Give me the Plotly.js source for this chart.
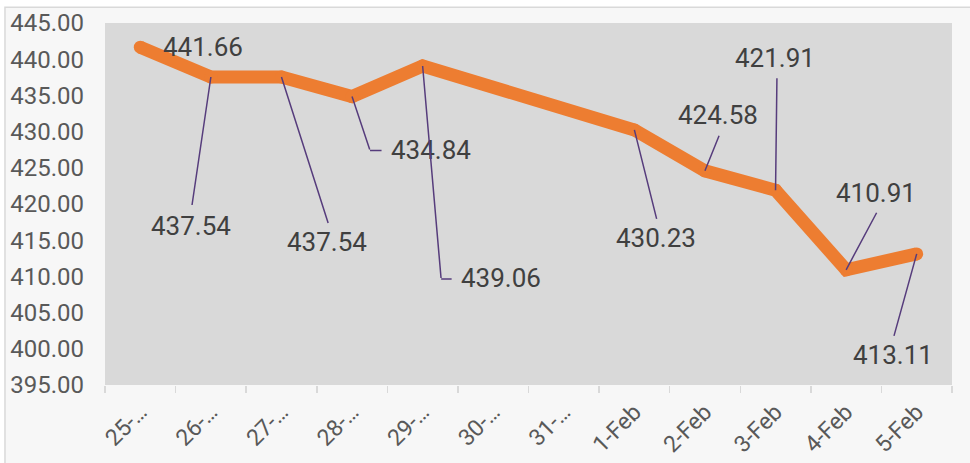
<!DOCTYPE html>
<html>
<head>
<meta charset="utf-8">
<script src="https://cdn.plot.ly/plotly-3.0.1.min.js"></script>
<style>
  html, body { margin: 0; padding: 0; background: #ffffff; }
  #chart { width: 970px; height: 463px; }
</style>
</head>
<body>
<div id="chart"></div>
<script>
// ---- data ----
const categories = ['25-Jan', '26-Jan', '27-Jan', '28-Jan', '29-Jan', '30-Jan', '31-Jan',
                    '1-Feb', '2-Feb', '3-Feb', '4-Feb', '5-Feb'];
const tickLabels = ['25-\u2026', '26-\u2026', '27-\u2026', '28-\u2026', '29-\u2026', '30-\u2026', '31-\u2026',
                    '1-Feb', '2-Feb', '3-Feb', '4-Feb', '5-Feb'];
const values = [441.66, 437.54, 437.54, 434.84, 439.06, null, null,
                430.23, 424.58, 421.91, 410.91, 413.11];
const yTicks = [395, 400, 405, 410, 415, 420, 425, 430, 435, 440, 445];

// ---- label placement (pixel offsets from each point; styling only) ----
// [labelDx, labelDy, leaderDx, leaderDy, hookLength]  (dy positive = downward)
const labelPlacement = {
  0:  [63, 1, null, null, 0],
  1:  [-20, 150, -19, 129, 0],
  2:  [46, 166, 47, 147, 0],
  3:  [79, 54, 18, 54, 12],
  4:  [78, 213, 18.5, 213, 11],
  7:  [22, 109, 22.5, 90, 0],
  8:  [13, -55, 14.5, -36, 0],
  9:  [-1, -131, 1.4, -113, 0],
  10: [30, -76, 31, -58, 0],
  11: [-24, 102, -23, 83, 0]
};

const ORANGE = '#ED7D31';
const LEADER = '#563C7C';
const LABEL_COLOR = '#404040';
const AXIS_COLOR = '#595959';
const FONT = 'Roboto, "Liberation Sans", Arial, sans-serif';

const trace = {
  type: 'scatter',
  mode: 'lines+markers',
  x: categories,
  y: values,
  connectgaps: true,
  line: { color: ORANGE, width: 13 },
  marker: { color: ORANGE, size: 13, line: { width: 0 } },
  hoverinfo: 'x+y'
};

const annotations = [];
values.forEach(function (v, i) {
  if (v === null || !labelPlacement[i]) return;
  const p = labelPlacement[i];
  // text label
  annotations.push({
    x: categories[i], y: v, xref: 'x', yref: 'y',
    text: v.toFixed(2),
    showarrow: false,
    xshift: p[0], yshift: -p[1] + 1,
    xanchor: 'center', yanchor: 'middle',
    font: { family: FONT, size: 26, color: LABEL_COLOR }
  });
  // leader line
  if (p[2] !== null) {
    annotations.push({
      x: categories[i], y: v, xref: 'x', yref: 'y',
      text: ' ', font: { size: 1 }, borderpad: 0,
      showarrow: true, arrowhead: 0, arrowwidth: 1.5, arrowcolor: LEADER,
      standoff: 0, startstandoff: 0,
      ax: p[2], ay: p[3]
    });
    if (p[4]) {
      annotations.push({
        x: categories[i], y: v, xref: 'x', yref: 'y',
        xshift: p[2], yshift: -p[3],
        text: ' ', font: { size: 1 }, borderpad: 0,
        showarrow: true, arrowhead: 0, arrowwidth: 1.5, arrowcolor: LEADER,
        standoff: 0, startstandoff: 0,
        ax: p[4], ay: 0
      });
    }
  }
});

const layout = {
  width: 970,
  height: 463,
  margin: { l: 105, r: 18.3, t: 22.7, b: 78, pad: 0 },
  paper_bgcolor: '#ffffff',
  plot_bgcolor: '#d9d9d9',
  showlegend: false,
  font: { family: FONT, color: AXIS_COLOR },
  xaxis: {
    type: 'category',
    range: [-0.5, categories.length - 0.5],
    tickvals: categories,
    ticktext: tickLabels,
    tickangle: -45,
    tickson: 'boundaries',
    ticks: 'outside',
    ticklen: 7,
    tickwidth: 1.5,
    tickcolor: '#d9d9d9',
    ticklabelstandoff: 8,
    showgrid: false,
    zeroline: false,
    showline: false,
    tickfont: { family: FONT, size: 23, color: AXIS_COLOR },
    fixedrange: true
  },
  yaxis: {
    range: [395, 445],
    tickvals: yTicks,
    ticktext: yTicks.map(function (t) { return t.toFixed(2); }),
    ticks: '',
    ticklabelstandoff: 20,
    showgrid: false,
    zeroline: false,
    showline: false,
    tickfont: { family: FONT, size: 24, color: AXIS_COLOR },
    fixedrange: true
  },
  shapes: [
    {
      type: 'rect', layer: 'below', xref: 'paper', yref: 'paper',
      x0: -0.1181, x1: 1.1, y0: -0.3, y1: 1.0433,
      fillcolor: '#f7f7f7', line: { color: '#d9d9d9', width: 1.5 }
    },
    {
      type: 'rect', layer: 'below', xref: 'paper', yref: 'paper',
      x0: 0, x1: 1, y0: 0, y1: 1,
      fillcolor: '#d9d9d9', line: { width: 0 }
    }
  ],
  annotations: annotations
};

Plotly.newPlot('chart', [trace], layout, { displayModeBar: false, staticPlot: true });
</script>
</body>
</html>
